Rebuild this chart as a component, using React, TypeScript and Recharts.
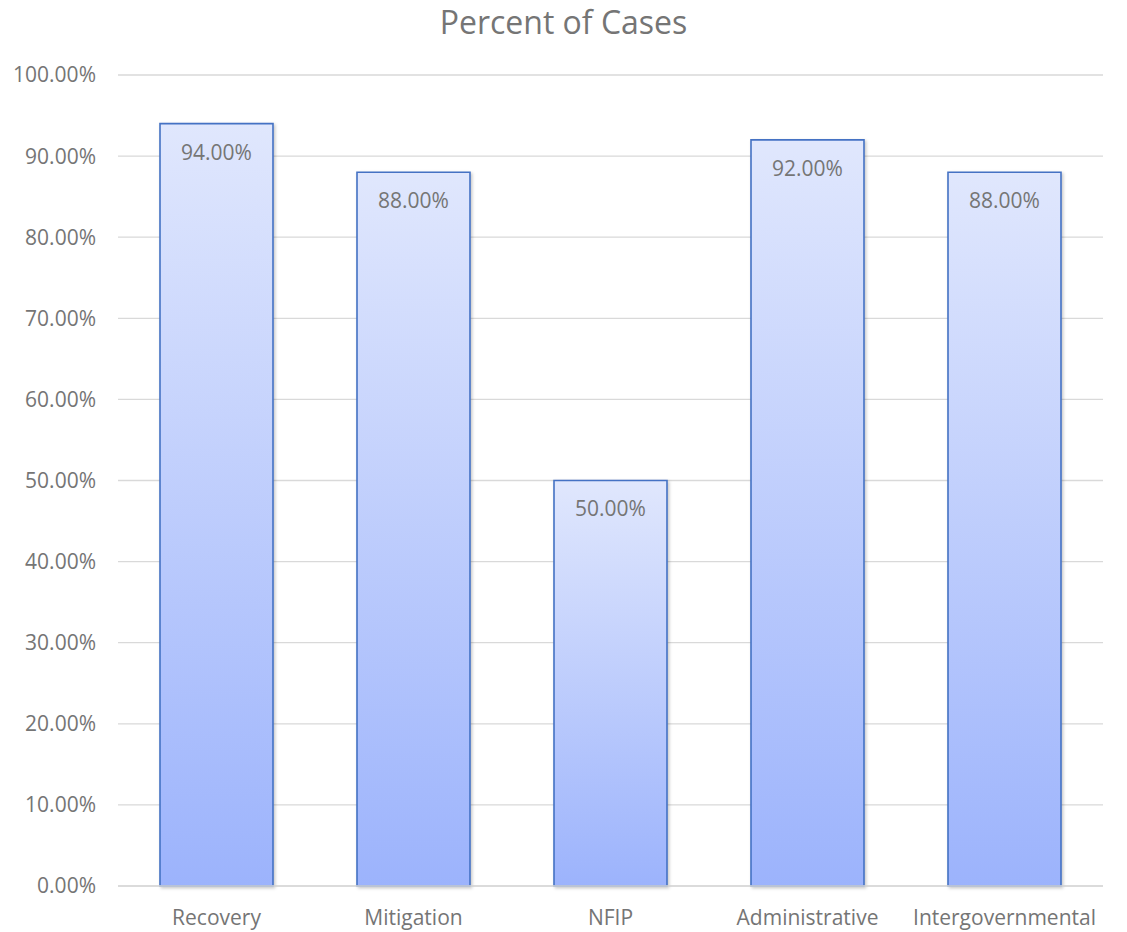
import React from "react";
import { BarChart, Bar, XAxis, YAxis, CartesianGrid, LabelList } from "recharts";

// Share of cases by program area
const categories: string[] = ["Recovery", "Mitigation", "NFIP", "Administrative", "Intergovernmental"];
const percentValues: number[] = [94, 88, 50, 92, 88];
const yTicks: number[] = [0, 10, 20, 30, 40, 50, 60, 70, 80, 90, 100];

const data = categories.map((name, i) => ({ name, value: percentValues[i] }));

const FONT = "'Open Sans', sans-serif";
const TEXT = "#757575";

const fmt = (v: number) => `${v.toFixed(2)}%`;

export default function App() {
  return (
    <div style={{ position: "absolute", left: 0, top: 0, width: 1127, height: 932, background: "#fff" }}>
      <div
        style={{
          position: "absolute",
          left: 0,
          top: 0,
          width: 1127,
          textAlign: "center",
          fontFamily: FONT,
          fontSize: 32,
          lineHeight: "normal",
          color: TEXT,
        }}
      >
        Percent of Cases
      </div>
      <BarChart
        width={1127}
        height={932}
        data={data}
        margin={{ top: 75, right: 24, bottom: 0, left: 0 }}
        style={{ position: "absolute", left: 0, top: 0 }}
      >
        <defs>
          <linearGradient id="barFill" x1="0" y1="0" x2="0" y2="1">
            <stop offset="0%" stopColor="#e0e7fd" />
            <stop offset="100%" stopColor="#9cb3fc" />
          </linearGradient>
          <filter id="barShadow" x="-10%" y="-10%" width="120%" height="120%">
            <feDropShadow dx="1.5" dy="1.5" stdDeviation="1.5" floodColor="#000" floodOpacity="0.22" />
          </filter>
        </defs>
        <CartesianGrid vertical={false} stroke="#d9d9d9" strokeWidth={1.3} />
        <XAxis
          dataKey="name"
          height={46}
          axisLine={{ stroke: "#d9d9d9", strokeWidth: 1.3 }}
          tickLine={false}
          tickMargin={18}
          tick={{ fill: TEXT, fontSize: 21, fontFamily: FONT }}
        />
        <YAxis
          domain={[0, 100]}
          ticks={yTicks}
          width={118}
          axisLine={false}
          tickLine={false}
          tickMargin={16}
          tickFormatter={fmt}
          tick={{ fill: TEXT, fontSize: 21, fontFamily: FONT }}
        />
        <Bar
          dataKey="value"
          barSize={113}
          fill="url(#barFill)"
          stroke="#4472c4"
          strokeWidth={1.6}
          filter="url(#barShadow)"
          isAnimationActive={false}
        >
          <LabelList
            dataKey="value"
            position="insideTop"
            offset={21}
            formatter={(v: any) => fmt(Number(v))}
            style={{ fill: TEXT, fontSize: 21, fontFamily: FONT }}
          />
        </Bar>
      </BarChart>
    </div>
  );
}
